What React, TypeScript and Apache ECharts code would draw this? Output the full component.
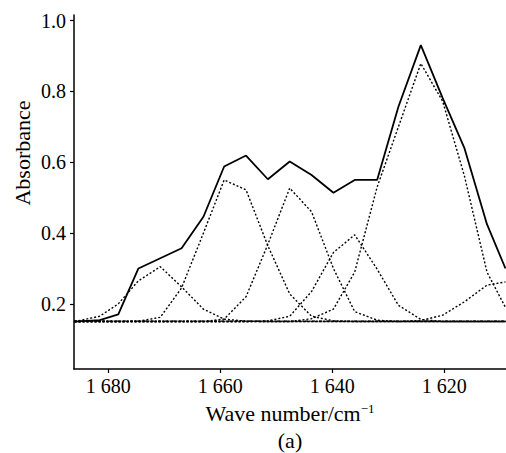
import React, { useEffect, useRef } from "react";
import * as echarts from "echarts";

// Wave numbers (cm^-1) of the sampled spectrum points
const wavenumber = [1686.0, 1681.5, 1678.2, 1674.6, 1670.7, 1666.9, 1663.0, 1659.3, 1655.4, 1651.5, 1647.6, 1643.7, 1639.8, 1636.0, 1632.0, 1628.2, 1624.2, 1620.3, 1616.4, 1612.4, 1609.1];
// Measured (total) absorbance
const total = [0.15, 0.154, 0.17, 0.30, 0.329, 0.357, 0.446, 0.588, 0.619, 0.552, 0.602, 0.564, 0.514, 0.550, 0.550, 0.757, 0.931, 0.781, 0.639, 0.425, 0.30];
// Fitted component bands
const band1 = [0.15, 0.165, 0.20, 0.265, 0.305, 0.248, 0.185, 0.157, 0.151, 0.15, 0.15, 0.15, 0.15, 0.15, 0.15, 0.15, 0.15, 0.15, 0.15, 0.15, 0.15];
const band2 = [0.15, 0.15, 0.15, 0.151, 0.162, 0.245, 0.40, 0.55, 0.522, 0.364, 0.228, 0.165, 0.152, 0.15, 0.15, 0.15, 0.15, 0.15, 0.15, 0.15, 0.15];
const band3 = [0.15, 0.15, 0.15, 0.15, 0.15, 0.15, 0.15, 0.157, 0.22, 0.368, 0.527, 0.46, 0.30, 0.178, 0.154, 0.15, 0.15, 0.15, 0.15, 0.15, 0.15];
const band4 = [0.15, 0.15, 0.15, 0.15, 0.15, 0.15, 0.15, 0.15, 0.15, 0.152, 0.165, 0.235, 0.345, 0.395, 0.298, 0.196, 0.156, 0.15, 0.15, 0.15, 0.15];
const band5 = [0.15, 0.15, 0.15, 0.15, 0.15, 0.15, 0.15, 0.15, 0.15, 0.15, 0.15, 0.158, 0.185, 0.29, 0.53, 0.70, 0.879, 0.772, 0.56, 0.29, 0.19];
const band6 = [0.15, 0.15, 0.15, 0.15, 0.15, 0.15, 0.15, 0.15, 0.15, 0.15, 0.15, 0.15, 0.15, 0.15, 0.15, 0.15, 0.153, 0.168, 0.206, 0.253, 0.262];
// Baseline
const baselineX = [1686.1, 1609.0];
const baselineY = [0.151, 0.151];

const xTicks = [1680, 1660, 1640, 1620];
const xTickLabels = ["1 680", "1 660", "1 640", "1 620"];
const yTicks = [0.2, 0.4, 0.6, 0.8, 1.0];
const yTickLabels = ["0.2", "0.4", "0.6", "0.8", "1.0"];

const X_MIN = 1609.0;
const X_MAX = 1686.1;
const Y_MIN = 0.016;
const Y_MAX = 1.016;

const FONT = "Liberation Serif";

function pairs(xs: number[], ys: number[]) {
  return xs.map((x, i) => [x, ys[i]]);
}

export default function App() {
  const ref = useRef<HTMLDivElement>(null);
  useEffect(() => {
    document.body.style.margin = "0";
    if (!ref.current) return;
    const chart = echarts.init(ref.current, undefined, { renderer: "svg" });
    const dotted = (name: string, ys: number[]) => ({
      name,
      type: "line",
      data: pairs(wavenumber, ys),
      symbol: "none",
      lineStyle: { color: "#000", width: 1.4, type: [2, 2] },
      z: 2,
    });
    chart.setOption({
      animation: false,
      backgroundColor: "#fff",
      textStyle: { fontFamily: FONT, color: "#000" },
      grid: { left: 74, right: 0, top: 15, bottom: 84 },
      xAxis: {
        type: "value",
        inverse: true,
        min: X_MIN,
        max: X_MAX,
        axisLine: { show: true, onZero: false, lineStyle: { color: "#000", width: 1.5 } },
        axisTick: { show: true, length: 4, customValues: xTicks, lineStyle: { color: "#000", width: 1.2 } },
        axisLabel: { show: false },
        splitLine: { show: false },
      },
      yAxis: {
        type: "value",
        min: Y_MIN,
        max: Y_MAX,
        axisLine: { show: true, onZero: false, lineStyle: { color: "#000", width: 1.5 } },
        axisTick: { show: true, length: 4, customValues: yTicks, lineStyle: { color: "#000", width: 1.2 } },
        axisLabel: { show: false },
        splitLine: { show: false },
      },
      series: [
        {
          name: "baseline",
          type: "line",
          data: pairs(baselineX, baselineY),
          symbol: "none",
          lineStyle: { color: "#000", width: 1.2, type: [3, 1.5, 1, 1.5] },
          z: 1,
        },
        dotted("band1", band1),
        dotted("band2", band2),
        dotted("band3", band3),
        dotted("band4", band4),
        dotted("band5", band5),
        dotted("band6", band6),
        {
          name: "total",
          type: "line",
          data: pairs(wavenumber, total),
          symbol: "none",
          lineStyle: { color: "#000", width: 1.8, type: "solid" },
          z: 3,
        },
      ],
    });

    // Tick labels placed through the chart's own scales
    const labels: any[] = [];
    xTicks.forEach((v, i) => {
      const p = chart.convertToPixel({ gridIndex: 0 }, [v, Y_MIN]) as number[];
      labels.push({
        type: "text",
        x: p[0],
        y: p[1] + 7,
        style: {
          text: xTickLabels[i],
          fontFamily: FONT,
          fontSize: 20,
          fill: "#000",
          align: "center",
          verticalAlign: "top",
        },
      });
    });
    yTicks.forEach((v, i) => {
      const p = chart.convertToPixel({ gridIndex: 0 }, [X_MAX, v]) as number[];
      labels.push({
        type: "text",
        x: p[0] - 8,
        y: p[1],
        style: {
          text: yTickLabels[i],
          fontFamily: FONT,
          fontSize: 20,
          fill: "#000",
          align: "right",
          verticalAlign: "middle",
        },
      });
    });

    chart.setOption({
      graphic: [
        ...labels,
        {
          type: "text",
          x: 22,
          y: 153,
          rotation: Math.PI / 2,
          style: {
            text: "Absorbance",
            fontFamily: FONT,
            fontSize: 22,
            fill: "#000",
            align: "center",
            verticalAlign: "middle",
          },
        },
        {
          type: "text",
          x: 290,
          y: 413,
          style: {
            text: "{n|Wave number/cm}{s|−1}",
            rich: {
              n: { fontFamily: FONT, fontSize: 22, color: "#000" },
              s: { fontFamily: FONT, fontSize: 13, color: "#000", verticalAlign: "top", padding: [0, 0, 8, 0] },
            },
            align: "center",
            verticalAlign: "middle",
          },
        },
        {
          type: "text",
          x: 290,
          y: 440,
          style: {
            text: "(a)",
            fontFamily: FONT,
            fontSize: 22,
            fill: "#000",
            align: "center",
            verticalAlign: "middle",
          },
        },
      ],
    });
    return () => chart.dispose();
  }, []);
  return <div ref={ref} style={{ width: 506, height: 453 }} />;
}
